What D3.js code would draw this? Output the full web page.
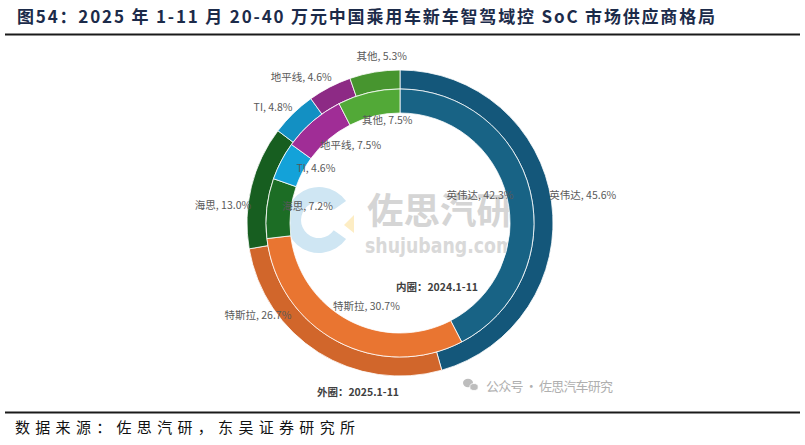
<!DOCTYPE html>
<html><head><meta charset="utf-8">
<script src="https://cdn.jsdelivr.net/npm/d3@7"></script>
<style>html,body{margin:0;padding:0;background:#fff;}svg{display:block;}</style>
</head><body>
<svg id="c" width="805" height="445"></svg>
<script>
// ---- data ----
const companies = ["英伟达","特斯拉","海思","TI","地平线","其他"];
const outer2025 = [45.6, 26.7, 13.0, 4.8, 4.6, 5.3];
const inner2024 = [42.3, 30.7, 7.2, 4.6, 7.5, 7.5];
const titleText = "图54：2025 年 1-11 月 20-40 万元中国乘用车新车智驾域控 SoC 市场供应商格局";
const sourceText = "数据来源：佐思汽研，东吴证券研究所";
const innerNote = "内圈：2024.1-11";
const outerNote = "外圈：2025.1-11";

// ---- styles / layout ----
const outerColors = ["#14577a","#d1662b","#175e20","#1390c3","#8d2a85","#47952f"];
const innerColors = ["#186385","#e97531","#1c6d25","#13a2d9","#a02d96","#52a937"];
// label placement: [angle offset from slice middle (deg), radius]
const outerLabelLayout = [[-1,185],[25,169],[-7.7,178],[-3.3,172],[-6.6,177],[3.3,168]];
const innerLabelLayout = [[-6,85],[-5.8,89],[4.2,94],[6,101],[8.5,93],[6.5,104]];

const svg = d3.select("#c");
const cx = 400, cy = 223;
const FONT = "'Noto Sans CJK SC','Noto Sans',sans-serif";

// title
svg.append("text").attr("x",17).attr("y",23)
  .attr("font-family",FONT).attr("font-weight","bold").attr("font-size",17)
  .attr("fill","#1c2b4a").attr("textLength",698).attr("lengthAdjust","spacing")
  .text(titleText);
svg.append("line").attr("x1",5).attr("x2",800).attr("y1",34.5).attr("y2",34.5)
  .attr("stroke","#1a1a1a").attr("stroke-width",2.2);
svg.append("line").attr("x1",5).attr("x2",800).attr("y1",412.5).attr("y2",412.5)
  .attr("stroke","#1a1a1a").attr("stroke-width",2.2);
svg.append("text").attr("x",15).attr("y",433)
  .attr("font-family",FONT).attr("font-size",15)
  .attr("fill","#111").attr("textLength",340).attr("lengthAdjust","spacing")
  .text(sourceText);

// watermark logo (behind everything)
const wm = svg.append("g");
wm.append("path").attr("transform","translate(319,220)")
  .attr("d", d3.arc().innerRadius(18).outerRadius(33).startAngle(125*Math.PI/180).endAngle((360+55)*Math.PI/180)())
  .attr("fill","#cfe6f3");
wm.append("path").attr("d","M344,225 L354,215 L354,233 Z").attr("fill","#fdedc4");
wm.append("text").attr("x",367).attr("y",224).attr("font-family",FONT).attr("font-weight","bold")
  .attr("font-size",36).attr("fill","#d5d5d5").attr("textLength",146).attr("lengthAdjust","spacingAndGlyphs").text("佐思汽研");
wm.append("text").attr("x",365).attr("y",253).attr("font-family","'DejaVu Sans',sans-serif").attr("font-weight","bold")
  .attr("font-size",21).attr("fill","#d9d9d9").attr("textLength",149).attr("lengthAdjust","spacingAndGlyphs").text("shujubang.com");

const g = svg.append("g").attr("transform",`translate(${cx},${cy})`);
const pie = d3.pie().sort(null).value(d=>d);
const outerArc = d3.arc().innerRadius(134).outerRadius(153);
const innerArc = d3.arc().innerRadius(110).outerRadius(134);
const outerData = pie(outer2025), innerData = pie(inner2024);

g.selectAll("path.o").data(outerData).join("path").attr("class","o")
  .attr("d",outerArc).attr("fill",(d,i)=>outerColors[i])
  .attr("stroke","#fff").attr("stroke-width",0.8);
g.selectAll("path.i").data(innerData).join("path").attr("class","i")
  .attr("d",innerArc).attr("fill",(d,i)=>innerColors[i])
  .attr("stroke","#fff").attr("stroke-width",0.8);

const lg = svg.append("g").attr("transform",`translate(${cx},${cy})`);
function polar(a, r){ return [r*Math.sin(a), -r*Math.cos(a)]; }
function labels(data, values, layout, cls){
  lg.selectAll("text."+cls).data(data).join("text").attr("class",cls)
    .attr("transform",(d,i)=>{
      const a = (d.startAngle+d.endAngle)/2 + layout[i][0]*Math.PI/180;
      const p = polar(a, layout[i][1]);
      return `translate(${p[0]},${p[1]})`;
    })
    .attr("text-anchor","middle").attr("dominant-baseline","central")
    .attr("font-family",FONT).attr("font-size",10.5).attr("fill","#595959")
    .text((d,i)=>`${companies[i]}, ${values[i].toFixed(1)}%`);
}
labels(outerData, outer2025, outerLabelLayout, "lo");
labels(innerData, inner2024, innerLabelLayout, "li");

svg.append("text").attr("x",437).attr("y",286).attr("text-anchor","middle").attr("dominant-baseline","central")
  .attr("font-family",FONT).attr("font-weight","bold").attr("font-size",10.5).attr("fill","#404040").text(innerNote);
svg.append("text").attr("x",358).attr("y",391).attr("text-anchor","middle").attr("dominant-baseline","central")
  .attr("font-family",FONT).attr("font-weight","bold").attr("font-size",10.5).attr("fill","#404040").text(outerNote);

// wechat watermark
const wx = svg.append("g").attr("fill","#bdbdbd");
wx.append("ellipse").attr("cx",468).attr("cy",383).attr("rx",5).attr("ry",4.2);
wx.append("ellipse").attr("cx",474).attr("cy",387).attr("rx",4.2).attr("ry",3.5).attr("stroke","#fff").attr("stroke-width",0.8);
svg.append("text").attr("x",486).attr("y",385).attr("dominant-baseline","central")
  .attr("font-family",FONT).attr("font-size",13).attr("fill","#b0b0b0")
  .attr("textLength",127).attr("lengthAdjust","spacing").text("公众号 · 佐思汽车研究");
</script>
</body></html>
